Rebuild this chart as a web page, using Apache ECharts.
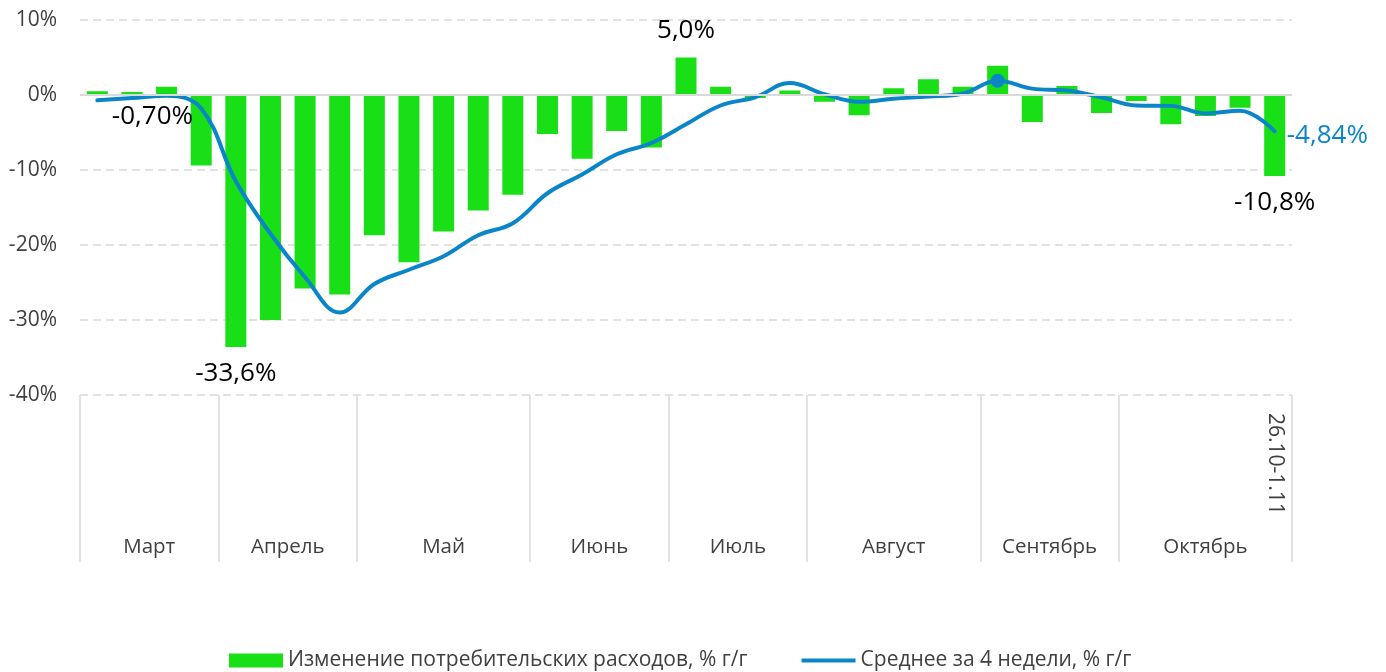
<!DOCTYPE html>
<html>
<head>
<meta charset="utf-8">
<script src="https://cdn.jsdelivr.net/npm/echarts@6/dist/echarts.min.js"></script>
<style>
html,body{margin:0;padding:0;background:#fff;}
#chart{width:1386px;height:672px;}
</style>
</head>
<body>
<div id="chart"></div>
<script>
// ---- data ----
const weeks = ['2.03-8.03','9.03-15.03','16.03-22.03','23.03-29.03',
  '30.03-5.04','6.04-12.04','13.04-19.04','20.04-26.04',
  '27.04-3.05','4.05-10.05','11.05-17.05','18.05-24.05','25.05-31.05',
  '1.06-7.06','8.06-14.06','15.06-21.06','22.06-28.06',
  '29.06-5.07','6.07-12.07','13.07-19.07','20.07-26.07',
  '27.07-2.08','3.08-9.08','10.08-16.08','17.08-23.08','24.08-30.08',
  '31.08-6.09','7.09-13.09','14.09-20.09','21.09-27.09',
  '28.09-4.10','5.10-11.10','12.10-18.10','19.10-25.10','26.10-1.11'];
const months = ['Март','Апрель','Май','Июнь','Июль','Август','Сентябрь','Октябрь'];
const monthWeeks = [4,4,5,4,4,5,4,5];
const spending = [0.5, 0.4, 1.1, -9.4, -33.6, -30.0, -25.8, -26.6, -18.7, -22.3, -18.2, -15.4, -13.3,
  -5.2, -8.5, -4.8, -7.0, 5.0, 1.1, -0.4, 0.6, -0.9, -2.7, 0.9, 2.1, 1.1, 3.9, -3.6, 1.2, -2.4,
  -0.8, -3.9, -2.8, -1.7, -10.8];
const avg4 = [-0.7, -0.4, -0.1, -1.8, -11.5, -18.5, -24.3, -29.0, -25.2, -23.3, -21.5, -18.7, -17.1,
  -13.1, -10.6, -7.9, -6.4, -3.9, -1.4, -0.3, 1.6, 0.1, -0.9, -0.5, -0.2, 0.2, 1.9, 0.85, 0.6, -0.3,
  -1.4, -1.45, -2.45, -2.1, -4.84];
const yTicks = [-40, -30, -20, -10, 0, 10];
const barName = 'Изменение потребительских расходов, % г/г';
const lineName = 'Среднее за 4 недели, % г/г';
const barLabels = {4: '-33,6%', 17: '5,0%', 34: '-10,8%'};
const firstLineLabel = '-0,70%';
const lastLineLabel = '-4,84%';
const markerIndex = 26;

// ---- build ----
const FONT = '"Open Sans", "Noto Sans", sans-serif';

// month axis: half-week resolution, boundaryGap false -> 2*N+1 points
const monthAxis = new Array(weeks.length * 2 + 1).fill('');
const boundary = new Set([0]);
let acc = 0;
months.forEach((m, i) => {
  monthAxis[acc * 2 + monthWeeks[i]] = m;
  acc += monthWeeks[i];
  boundary.add(acc * 2);
});

const barData = spending.map((v, i) => barLabels[i] ? {
  value: v,
  label: {show: true, position: v < 0 ? 'bottom' : 'top', distance: 14,
    formatter: () => barLabels[i], fontSize: 26, color: '#000', fontFamily: FONT}
} : v);

const lineData = avg4.map((v, i) => {
  if (i === 0) return {value: v, symbol: 'circle', symbolSize: 1,
    label: {show: true, position: 'right', distance: 14, offset: [0, 16],
      formatter: () => firstLineLabel, fontSize: 26, color: '#000', fontFamily: FONT}};
  if (i === markerIndex) return {value: v, symbol: 'circle', symbolSize: 14};
  return v;
});

const chart = echarts.init(document.getElementById('chart'), null, {renderer: 'canvas'});
chart.setOption({
  animation: false,
  textStyle: {fontFamily: FONT},
  grid: {left: 80, right: 94, top: 20, bottom: 277, containLabel: false},
  legend: {
    left: 224, top: 645, itemWidth: 54, itemHeight: 14, itemGap: 54,
    textStyle: {fontSize: 21, color: '#404040', fontFamily: FONT},
    data: [
      {name: barName, icon: 'rect'},
      {name: lineName, icon: 'path://M0,5 L54,5 L54,9 L0,9 Z M0,0 L0.01,0 L0.01,14 L0,14 Z'}
    ]
  },
  xAxis: [{
    type: 'category', data: weeks, boundaryGap: true, position: 'bottom',
    axisLine: {show: false}, axisTick: {show: false}, splitLine: {show: false},
    axisLabel: {interval: 0, rotate: -90, margin: 18, fontSize: 21, color: '#404040', fontFamily: FONT,
      formatter: (v, i) => i === weeks.length - 1 ? v : ''}
  }, {
    type: 'category', data: monthAxis, boundaryGap: false, position: 'bottom',
    axisLine: {show: false}, splitLine: {show: false},
    axisTick: {show: true, interval: i => boundary.has(i), length: 167,
      lineStyle: {color: '#d9d9d9', width: 1.5}},
    axisLabel: {interval: 0, margin: 142, fontSize: 20.5, color: '#404040', fontFamily: FONT}
  }],
  yAxis: {
    type: 'value', min: yTicks[0], max: yTicks[yTicks.length - 1], interval: 10,
    axisLine: {show: false}, axisTick: {show: false},
    axisLabel: {formatter: '{value}%', margin: 23, fontSize: 21, color: '#404040', fontFamily: FONT},
    splitLine: {show: true, lineStyle: {color: '#d9d9d9', width: 1.5, type: [8, 5]}}
  },
  series: [{
    name: barName, type: 'bar', xAxisIndex: 0, data: barData,
    barWidth: 21, itemStyle: {color: '#19df17'},
    markLine: {silent: true, symbol: 'none', label: {show: false},
      lineStyle: {type: 'solid', color: '#d9d9d9', width: 2},
      data: [{yAxis: 0}]},
    z: 2
  }, {
    name: lineName, type: 'line', xAxisIndex: 0, data: lineData,
    smooth: 0.4, symbol: 'none',
    lineStyle: {color: '#0a86c8', width: 4, cap: 'round'},
    itemStyle: {color: '#0a86c8'},
    endLabel: {show: true, formatter: () => lastLineLabel, distance: 12, offset: [0, 4],
      fontSize: 26, color: '#0a86c8', fontFamily: FONT},
    z: 3
  }]
});
</script>
</body>
</html>
